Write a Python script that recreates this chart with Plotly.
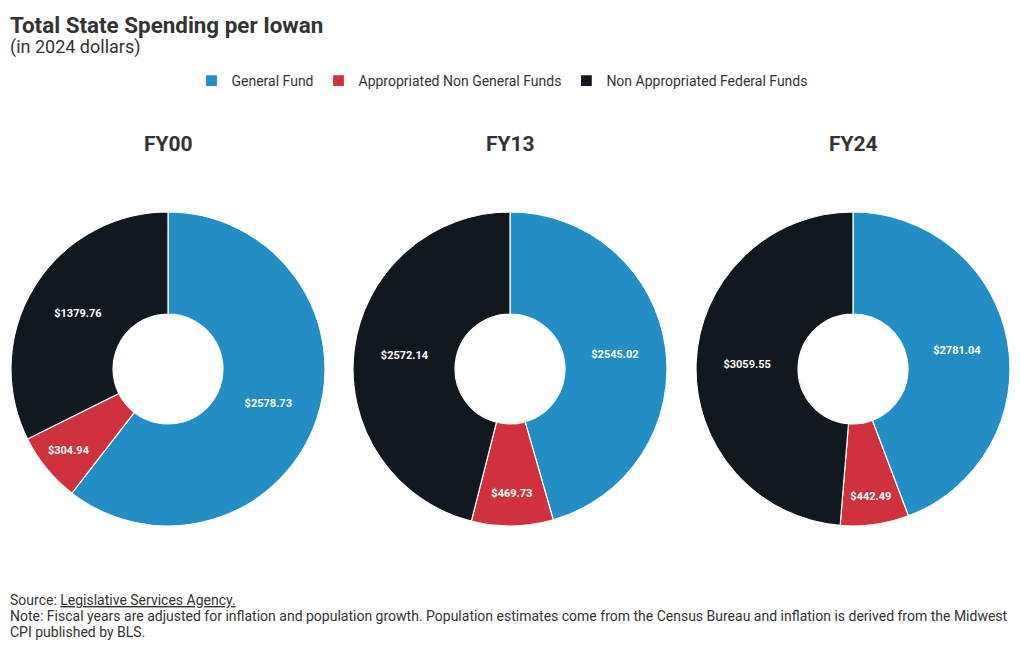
import plotly.graph_objects as go

categories = ["General Fund", "Appropriated Non General Funds", "Non Appropriated Federal Funds"]
years = ["FY00", "FY13", "FY24"]
fy00 = [2578.73, 304.94, 1379.76]
fy13 = [2545.02, 469.73, 2572.14]
fy24 = [2781.04, 442.49, 3059.55]
colors = ["#238ec5", "#d1313c", "#111820"]

# page has an 8px body margin; figure sized to fit inside the 1020x650 window
OFF = 8
W, H = 1004, 634
centers = [168, 510, 853]
R = 157
cy_top, cy_bot = 212, 526


def px(x):
    return (x - OFF) / W


def py(y):
    return 1 - (y - OFF) / H


fig = go.Figure()
for i, (yr, vals) in enumerate(zip(years, [fy00, fy13, fy24])):
    cx = centers[i]
    fig.add_trace(go.Pie(
        labels=categories, values=vals, sort=False, direction="clockwise", rotation=0,
        hole=0.35,
        marker=dict(colors=colors, line=dict(color="white", width=1.2)),
        texttemplate="$%{value:.2f}", textposition="inside",
        insidetextorientation="horizontal",
        textfont=dict(family="Roboto", size=11, color="white", weight="bold"),
        domain=dict(x=[px(cx - R), px(cx + R)], y=[py(cy_bot), py(cy_top)]),
        showlegend=(i == 0), hoverinfo="skip", name=yr,
    ))
    fig.add_annotation(text="<b>" + yr + "</b>", x=px(cx), y=py(144), xref="paper", yref="paper",
                       showarrow=False, font=dict(family="Roboto", size=21, color="#333333"),
                       xanchor="center", yanchor="middle")

fig.add_annotation(text="<b>Total State Spending per Iowan</b>", x=px(8), y=py(25), xref="paper", yref="paper",
                   showarrow=False, xanchor="left", yanchor="middle",
                   font=dict(family="Roboto", size=22.4, color="#333333"))
fig.add_annotation(text="(in 2024 dollars)", x=px(8), y=py(47), xref="paper", yref="paper",
                   showarrow=False, xanchor="left", yanchor="middle",
                   font=dict(family="Roboto", size=18, color="#333333"))

footer_lines = [
    "Source: <u>Legislative Services Agency.</u>",
    "Note: Fiscal years are adjusted for inflation and population growth. Population estimates come from the Census Bureau and inflation is derived from the Midwest",
    "CPI published by BLS.",
]
for k, line in enumerate(footer_lines):
    fig.add_annotation(text=line, x=px(8), y=py(600 + 16 * k), xref="paper", yref="paper",
                       showarrow=False, xanchor="left", yanchor="middle", align="left",
                       font=dict(family="Roboto", size=14, color="#333333"))

fig.update_layout(
    width=W, height=H, margin=dict(l=0, r=0, t=0, b=0),
    paper_bgcolor="white", plot_bgcolor="white",
    font=dict(family="Roboto", color="#333333"),
    legend=dict(orientation="h", x=px(502), xanchor="center", y=py(81), yanchor="middle",
                font=dict(family="Roboto", size=14, color="#333333"), traceorder="normal",
                itemwidth=30),
)
fig.write_html("out.html")
